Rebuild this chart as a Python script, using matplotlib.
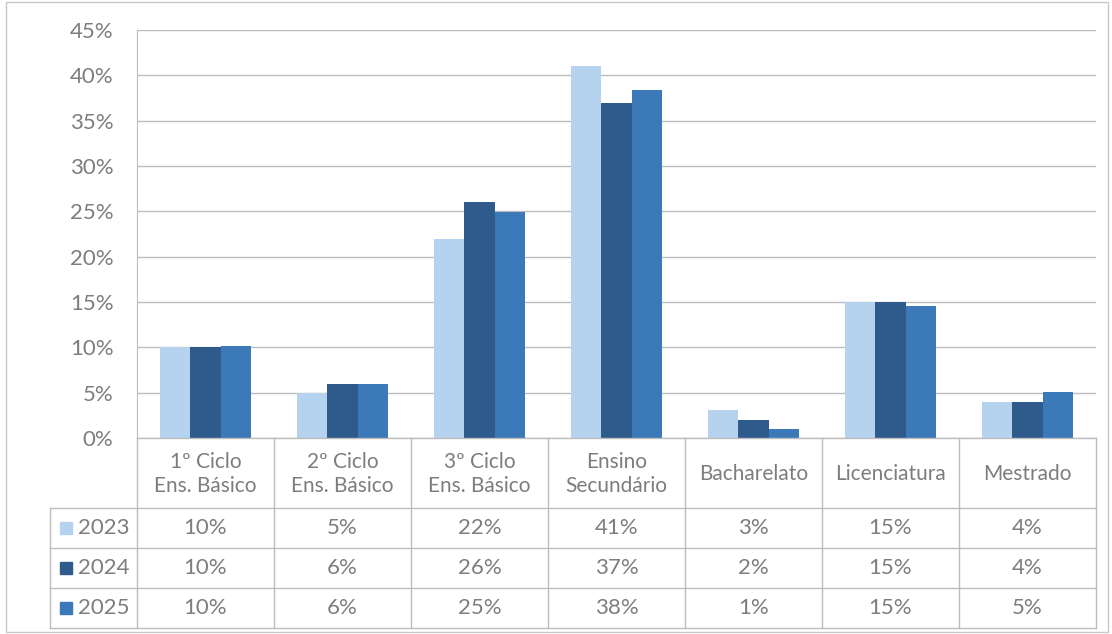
import matplotlib
matplotlib.use("Agg")
import matplotlib.pyplot as plt
from matplotlib.patches import Rectangle

plt.rcParams['font.family'] = ['Lato', 'DejaVu Sans']

categories = ["1º Ciclo\nEns. Básico", "2º Ciclo\nEns. Básico", "3º Ciclo\nEns. Básico",
              "Ensino\nSecundário", "Bacharelato", "Licenciatura", "Mestrado"]
years = ["2023", "2024", "2025"]
# bar heights (%)
values_2023 = [10.0, 5.0, 22.0, 41.0, 3.1, 15.0, 4.0]
values_2024 = [10.0, 6.0, 26.0, 37.0, 2.0, 15.0, 4.0]
values_2025 = [10.2, 6.0, 24.9, 38.4, 1.0, 14.6, 5.1]
# labels shown in the data table
table_2023 = ["10%", "5%", "22%", "41%", "3%", "15%", "4%"]
table_2024 = ["10%", "6%", "26%", "37%", "2%", "15%", "4%"]
table_2025 = ["10%", "6%", "25%", "38%", "1%", "15%", "5%"]
yticks = [0, 5, 10, 15, 20, 25, 30, 35, 40, 45]

colors = ["#b5d3ee", "#2f5b8c", "#3b79b9"]
text_color = "#7d7d7d"
line_color = "#bdbdbd"

W, H = 1112, 634
fig = plt.figure(figsize=(W / 100, H / 100), dpi=100)

# outer chart border
fig.patches.append(Rectangle((6 / W, 1 - 632 / H), 1102 / W, 630 / H,
                             transform=fig.transFigure, fill=False,
                             edgecolor="#c8c8c8", linewidth=1))

ax = fig.add_axes([137 / W, 1 - 438 / H, 959 / W, 408 / H])
x = list(range(len(categories)))
bw = 0.22
for k, vals in enumerate([values_2023, values_2024, values_2025]):
    ax.bar([i + (k - 1) * bw for i in x], vals, width=bw, color=colors[k],
           zorder=3, linewidth=0)

ax.set_xlim(-0.5, len(categories) - 0.5)
ax.set_ylim(0, 45)
ax.set_yticks(yticks)
ax.set_yticklabels([f"{t}%" for t in yticks], color=text_color, fontsize=16)
ax.tick_params(axis="y", length=0, pad=17)
ax.set_xticks([])
ax.grid(axis="y", color=line_color, linewidth=1, zorder=0)
for side in ["top", "right", "bottom"]:
    ax.spines[side].set_visible(False)
ax.spines["left"].set_color(line_color)

# data table under the chart
tax = fig.add_axes([137 / W, 1 - 628 / H, 959 / W, 190 / H])
tax.set_xlim(-0.5, len(categories) - 0.5)
tax.set_ylim(190, 0)
tax.axis("off")
left = -0.5 - 87 / 137
right = len(categories) - 0.5
kw = dict(color=line_color, linewidth=1, clip_on=False)
tax.plot([-0.5, right], [0, 0], **kw)
for yy in [70, 110, 150, 190]:
    tax.plot([left, right], [yy, yy], **kw)
for i in range(len(categories) + 1):
    tax.plot([i - 0.5, i - 0.5], [0, 190], **kw)
tax.plot([left, left], [70, 190], **kw)

for i, cat in enumerate(categories):
    tax.text(i, 36, cat, ha="center", va="center", color=text_color,
             fontsize=15, linespacing=1.3)

rows = [table_2023, table_2024, table_2025]
for r, (yr, labels) in enumerate(zip(years, rows)):
    yc = 90 + 40 * r
    tax.plot([left + 16 / 137], [yc], marker="s", markersize=8,
             color=colors[r], clip_on=False, linestyle="none")
    tax.text(left + 28 / 137, yc, yr, ha="left", va="center",
             color=text_color, fontsize=16)
    for i, lab in enumerate(labels):
        tax.text(i, yc, lab, ha="center", va="center", color=text_color,
                 fontsize=16)

fig.savefig("out.png", dpi=100)
